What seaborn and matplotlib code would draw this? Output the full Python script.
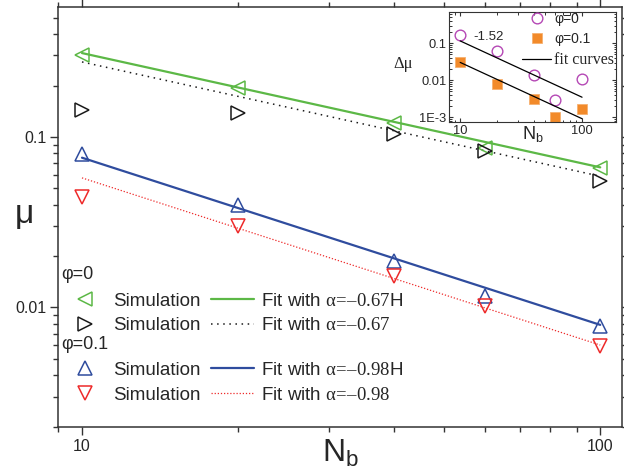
import numpy as np
import pandas as pd
import matplotlib
matplotlib.use("Agg")
import matplotlib.pyplot as plt
from matplotlib.lines import Line2D
from matplotlib.ticker import NullFormatter, LogLocator
import seaborn as sns

# ---- main panel data: friction coefficient vs. number of beads ----
n_beads = [10, 20, 40, 60, 100]
mu_phi0_sim_a = [0.302, 0.193, 0.120, 0.086, 0.0659]   # left triangles
mu_phi0_sim_b = [0.1436, 0.138, 0.1037, 0.0832, 0.0550]  # right triangles
mu_phi01_sim_a = [0.0794, 0.0397, 0.0188, 0.0117, 0.00783]  # up triangles
mu_phi01_sim_b = [0.0442, 0.0302, 0.01535, 0.0102, 0.00596]  # down triangles

# power-law fits mu = A * (N/10)^alpha
fit_range = [10, 100]
fit_phi0_a = (0.31, -0.67)
fit_phi0_b = (0.275, -0.67)
fit_phi01_a = (0.0755, -0.98)
fit_phi01_b = (0.0575, -0.98)

# ---- inset data: delta mu ----
dmu_phi0 = [0.168, 0.063, 0.0137, 0.0029, 0.0106]
dmu_phi01 = [0.032, 0.0078, 0.0031, 0.0010, 0.00168]
inset_fit_slope = -1.52
inset_fit_amp_phi0 = 0.116
inset_fit_amp_phi01 = 0.0305

GREEN = "#5cb846"
BLUE = "#2f4c9e"
RED = "#ee2a2a"
BLACK = "#1a1a1a"
MAGENTA = "#b548b5"
ORANGE = "#f28a2a"

sns.set_theme(style="ticks")
plt.rcParams["font.family"] = ["Liberation Sans", "DejaVu Sans"]
plt.rcParams["mathtext.fontset"] = "custom"
plt.rcParams["mathtext.rm"] = "Liberation Serif"
plt.rcParams["mathtext.it"] = "Liberation Serif:italic"
plt.rcParams["mathtext.sf"] = "Liberation Sans"
plt.rcParams["axes.edgecolor"] = "#333333"


def fit_frame(params):
    amp, alpha = params
    n = np.array(fit_range, dtype=float)
    return pd.DataFrame({"N": n, "mu": amp * (n / 10.0) ** alpha})


fig = plt.figure(figsize=(6.24, 4.74), dpi=100)
ax = fig.add_axes([0.0934, 0.0998, 0.9029, 0.8848])
ax.set_xscale("log")
ax.set_yscale("log")

DOT_BLACK = (0, (1, 3))
DOT_RED = (0, (1, 1.5))

# fit curves
sns.lineplot(data=fit_frame(fit_phi0_a), x="N", y="mu", ax=ax, color=GREEN, lw=1.6, legend=False)
sns.lineplot(data=fit_frame(fit_phi0_b), x="N", y="mu", ax=ax, color=BLACK, lw=1.1,
             linestyle=DOT_BLACK, legend=False)
sns.lineplot(data=fit_frame(fit_phi01_a), x="N", y="mu", ax=ax, color=BLUE, lw=1.6, legend=False)
sns.lineplot(data=fit_frame(fit_phi01_b), x="N", y="mu", ax=ax, color=RED, lw=0.9,
             linestyle=DOT_RED, legend=False)

# simulation points
marker_kw = dict(linestyle="none", mfc="none", ms=10.5, mew=1.1, legend=False)
for vals, mk, col in [(mu_phi0_sim_a, "<", GREEN), (mu_phi0_sim_b, ">", BLACK),
                      (mu_phi01_sim_a, "^", BLUE), (mu_phi01_sim_b, "v", RED)]:
    df = pd.DataFrame({"N": n_beads, "mu": vals})
    sns.lineplot(data=df, x="N", y="mu", ax=ax, marker=mk, mec=col, color=col, **marker_kw)

ax.set_xlim(9, 110)
ax.set_ylim(0.002, 0.575)
ax.set_xticks([10, 100], ["10", "100"])
ax.set_yticks([0.01, 0.1], ["0.01", "0.1"])
ax.xaxis.set_minor_locator(LogLocator(base=10, subs=np.arange(2, 10)))
ax.yaxis.set_minor_locator(LogLocator(base=10, subs=np.arange(2, 10)))
ax.xaxis.set_minor_formatter(NullFormatter())
ax.yaxis.set_minor_formatter(NullFormatter())
ax.tick_params(which="both", direction="out", top=True, right=True, color="#333333",
               labelsize=11.5, pad=3)
ax.tick_params(which="major", length=5.5, width=1.0)
ax.tick_params(which="minor", length=3.6, width=1.0)
for s in ax.spines.values():
    s.set_linewidth(1.1)

ax.set_xlabel(r"$\mathregular{N_b}$", fontsize=23, va="top")
ax.xaxis.set_label_coords(0.5, -0.026)
ax.set_ylabel("μ", fontsize=24, rotation=0, va="center", ha="center")
ax.yaxis.set_label_coords(-0.06, 0.505)


def marker_handle(mk, col):
    return Line2D([], [], linestyle="none", marker=mk, mfc="none", mec=col, ms=10.5, mew=1.1)


def fit_label(alpha, suffix=""):
    return r"Fit with $\mathrm{α\!=\!–" + f"{abs(alpha):.2f}" + r"}$" + suffix


legend_kw = dict(ncol=2, loc="center left", frameon=False, fontsize=13.5, handlelength=2.3,
                 handletextpad=0.35, columnspacing=0.55, labelspacing=0.4, borderpad=0,
                 borderaxespad=0)

# phi = 0 group
leg0 = ax.legend(
    [marker_handle("<", GREEN), marker_handle(">", BLACK),
     Line2D([], [], color=GREEN, lw=1.6), Line2D([], [], color=BLACK, lw=1.1, linestyle=DOT_BLACK)],
    ["Simulation", "Simulation", fit_label(fit_phi0_a[1], "H"), fit_label(fit_phi0_b[1])],
    bbox_to_anchor=(0.0092, 0.270), **legend_kw)
ax.add_artist(leg0)
# phi = 0.1 group
ax.legend(
    [marker_handle("^", BLUE), marker_handle("v", RED),
     Line2D([], [], color=BLUE, lw=1.6), Line2D([], [], color=RED, lw=0.9, linestyle=DOT_RED)],
    ["Simulation", "Simulation", fit_label(fit_phi01_a[1], "H"), fit_label(fit_phi01_b[1])],
    bbox_to_anchor=(0.0092, 0.105), **legend_kw)
ax.text(0.006, 0.3617, "φ=0", transform=ax.transAxes, fontsize=13, va="center", ha="left")
ax.text(0.006, 0.1948, "φ=0.1", transform=ax.transAxes, fontsize=13, va="center", ha="left")

# ---- inset ----
axin = fig.add_axes([0.7196, 0.7426, 0.2676, 0.2321])
axin.set_facecolor("white")
axin.set_xscale("log")
axin.set_yscale("log")
sns.lineplot(x=n_beads, y=dmu_phi0, ax=axin, marker="o", linestyle="none", mfc="none",
             mec=MAGENTA, color=MAGENTA, ms=7.7, mew=1.0, legend=False)
sns.lineplot(x=n_beads, y=dmu_phi01, ax=axin, marker="s", linestyle="none", mfc=ORANGE,
             mec="#f6b070", color=ORANGE, ms=7.2, mew=0.6, legend=False)
n_fit = np.array(fit_range, dtype=float)
sns.lineplot(x=n_fit, y=inset_fit_amp_phi0 * (n_fit / 10) ** inset_fit_slope, ax=axin,
             color="black", lw=0.9, legend=False)
sns.lineplot(x=n_fit, y=inset_fit_amp_phi01 * (n_fit / 10) ** inset_fit_slope, ax=axin,
             color="black", lw=0.9, legend=False)
axin.text(12.8, 0.148, f"{inset_fit_slope:.2f}", fontsize=9.5, va="center", ha="left")

axin.set_xlim(8.1, 190)
axin.set_ylim(7.5e-4, 0.7)
axin.set_xticks([10, 100], ["10", "100"])
axin.set_yticks([1e-3, 1e-2, 1e-1], ["1E-3", "0.01", "0.1"])
axin.xaxis.set_minor_locator(LogLocator(base=10, subs=np.arange(2, 10)))
axin.yaxis.set_minor_locator(LogLocator(base=10, subs=np.arange(2, 10)))
axin.xaxis.set_minor_formatter(NullFormatter())
axin.yaxis.set_minor_formatter(NullFormatter())
axin.tick_params(which="both", direction="in", top=True, right=True, color="#333333",
                 labelsize=9.3, pad=2)
axin.tick_params(which="major", length=3, width=0.8)
axin.tick_params(which="minor", length=1.8, width=0.7)
for s in axin.spines.values():
    s.set_linewidth(0.8)
axin.set_xlabel(r"$\mathregular{N_b}$", fontsize=13, va="top")
axin.xaxis.set_label_coords(0.5, -0.02)
axin.set_ylabel("Δμ", fontsize=12, rotation=0, va="center", ha="center",
                family=["Liberation Serif", "DejaVu Serif"])
axin.yaxis.set_label_coords(-0.272, 0.527)

in_handles = [
    Line2D([], [], linestyle="none", marker="o", mfc="none", mec=MAGENTA, ms=7.7, mew=1.0),
    Line2D([], [], linestyle="none", marker="s", mfc=ORANGE, mec="#f6b070", ms=7.2, mew=0.6),
    Line2D([], [], color="black", lw=0.9),
]
leg = axin.legend(in_handles, ["φ=0", "φ=0.1", "fit curves"], loc="upper left",
                  bbox_to_anchor=(0.437, 1.003), frameon=False, fontsize=10,
                  handlelength=2.1, handletextpad=0.2, labelspacing=0.45,
                  borderpad=0, borderaxespad=0)
leg.get_texts()[2].set_fontfamily(["Liberation Serif", "DejaVu Serif"])
leg.get_texts()[2].set_fontsize(11.5)

fig.savefig("out.png", dpi=100)
